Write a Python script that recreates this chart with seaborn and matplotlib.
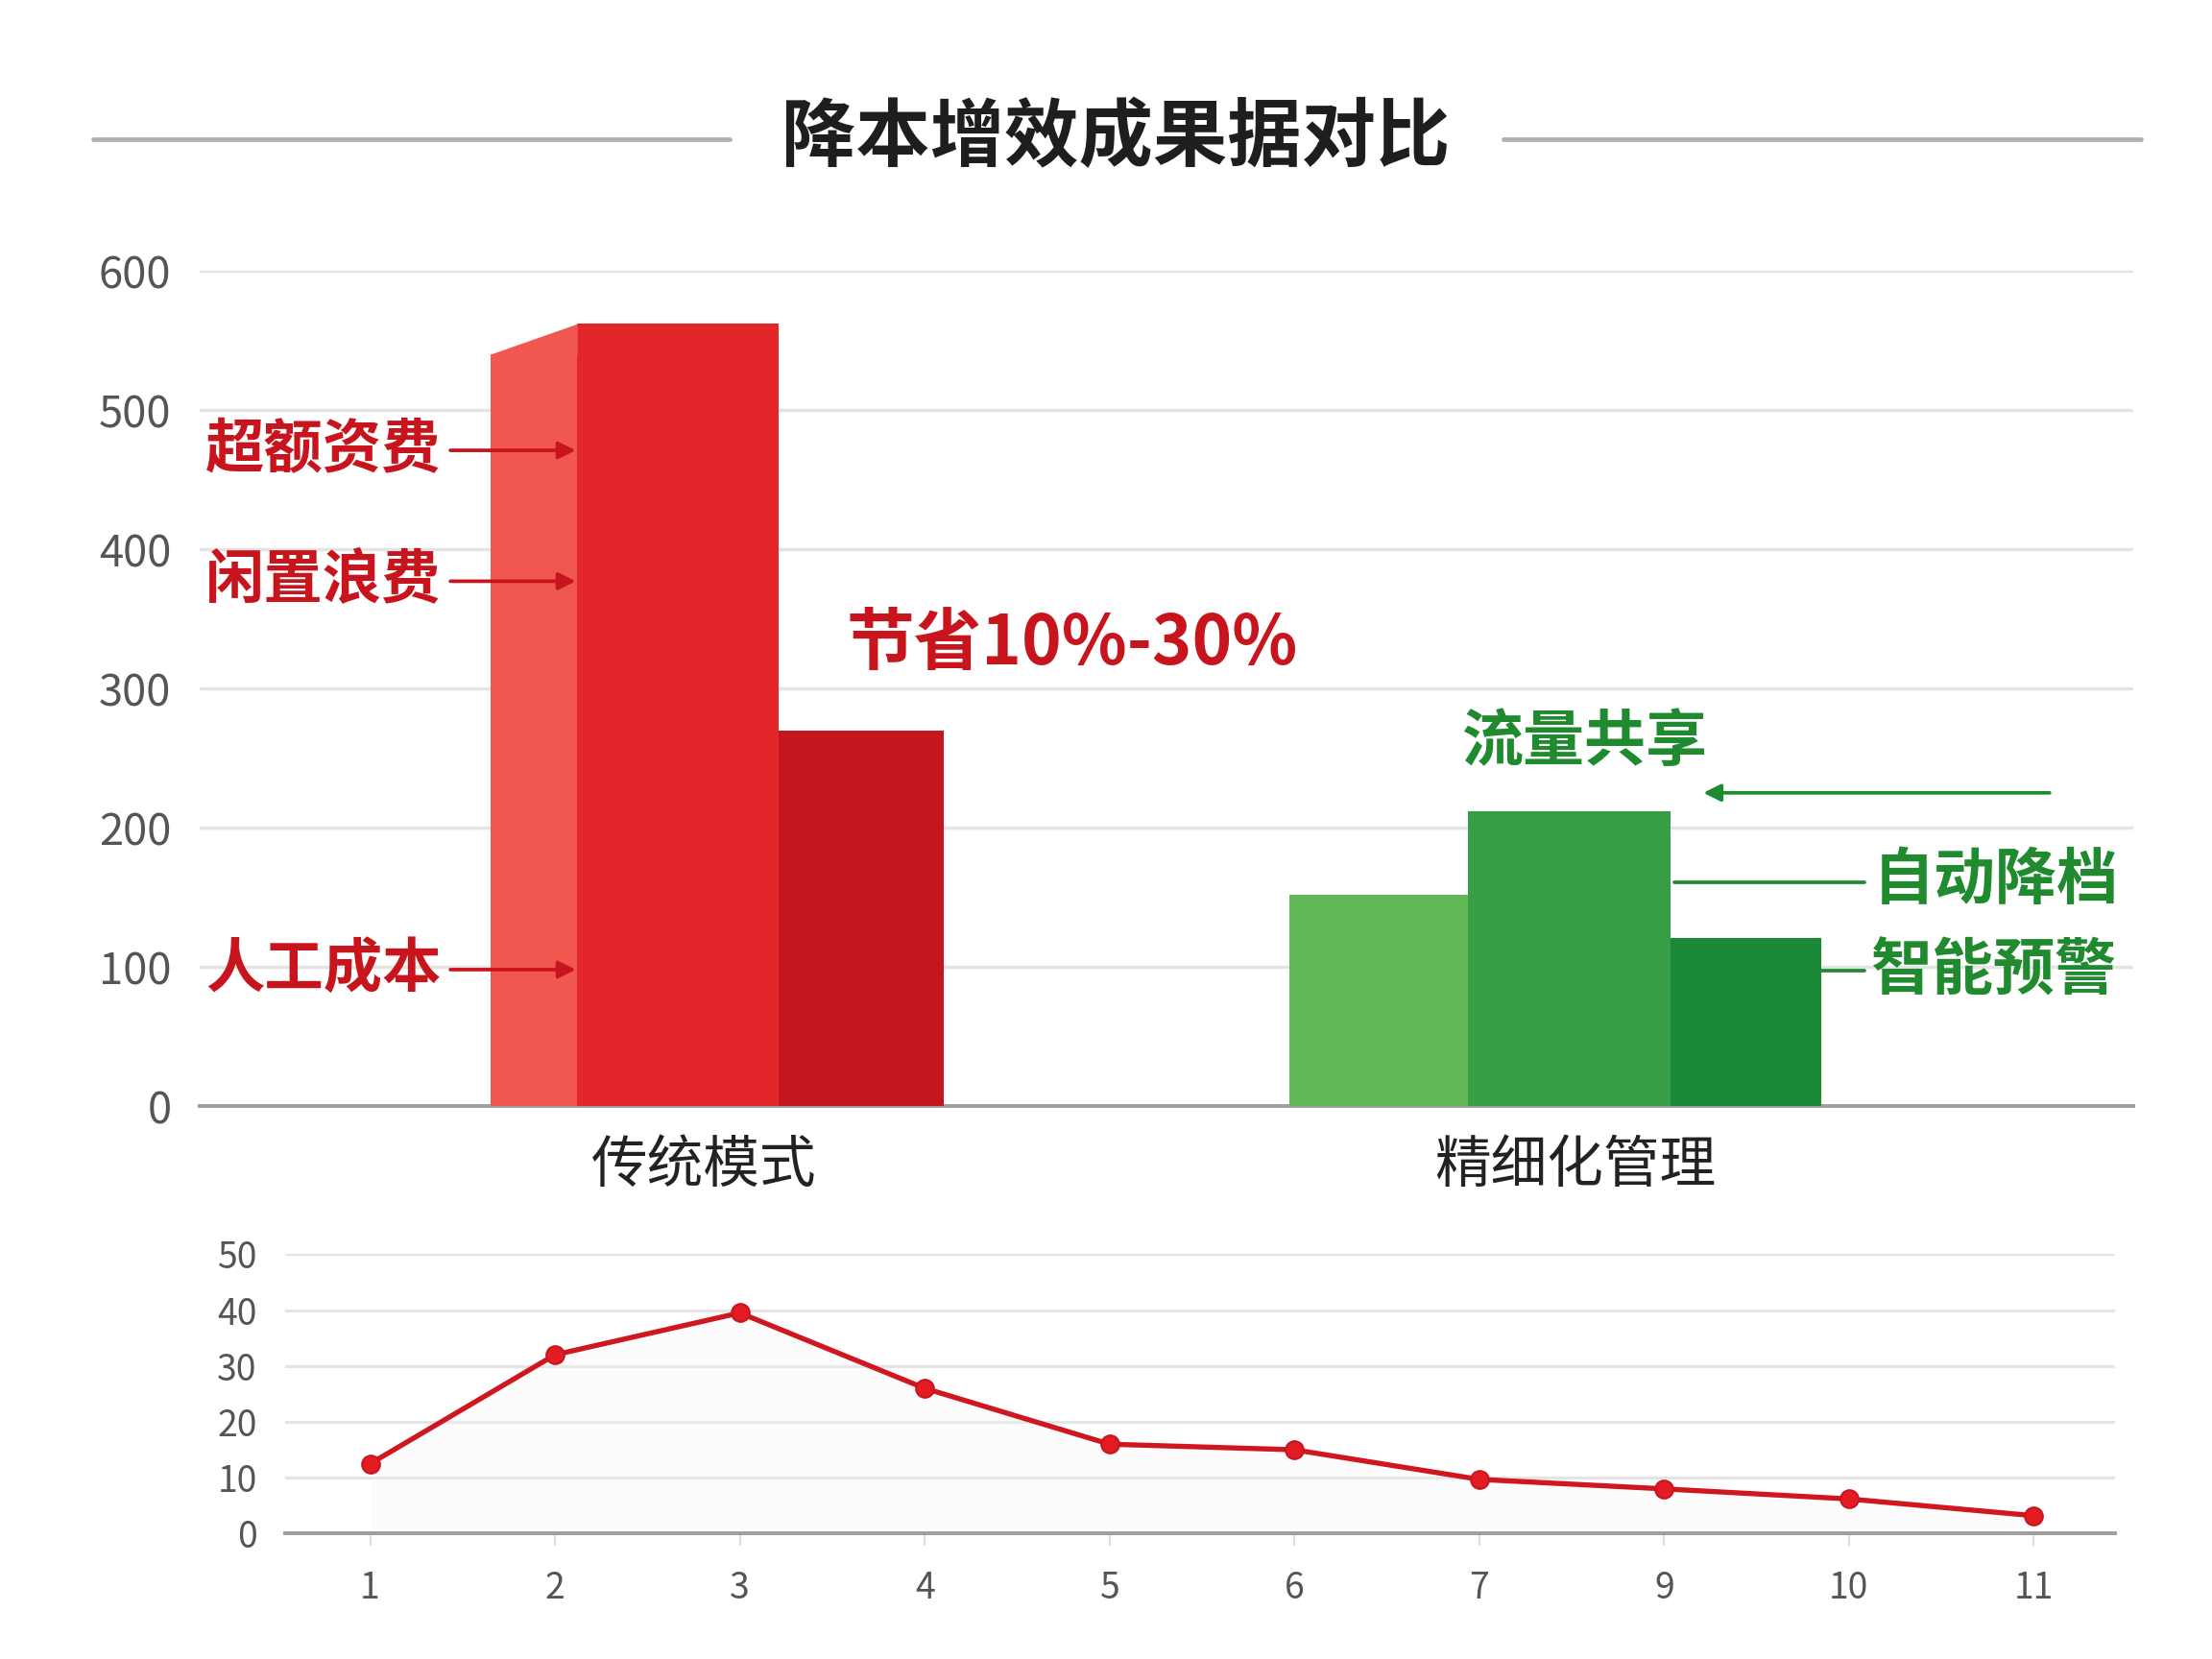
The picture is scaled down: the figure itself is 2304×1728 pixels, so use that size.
import numpy as np
import pandas as pd
import matplotlib
matplotlib.use("Agg")
import matplotlib.pyplot as plt
from matplotlib.lines import Line2D
import seaborn as sns

# ---------------- data ----------------
title = "降本增效成果据对比"
categories = ["传统模式", "精细化管理"]
trad_segments = ["侧面", "总成本", "优化后"]
trad_values = [540, 562, 270]
fine_segments = ["流量共享", "自动降档", "智能预警"]
fine_values = [152, 212, 121]
left_notes = ["超额资费", "闲置浪费", "人工成本"]
left_note_levels = [471, 377, 98]
saving_note = "节省10%-30%"
line_labels = ["1", "2", "3", "4", "5", "6", "7", "9", "10", "11"]
line_values = [12.5, 32, 39.5, 26, 16, 15, 9.7, 8, 6.2, 3.2]
top_ticks = [0, 100, 200, 300, 400, 500, 600]
bottom_ticks = [0, 10, 20, 30, 40, 50]

# ---------------- style ----------------
sns.set_theme(style="white")
plt.rcParams["font.family"] = ["Noto Sans CJK SC", "DejaVu Sans"]

RED_SIDE = "#f0574f"
RED_MAIN = "#e2262a"
RED_DARK = "#c4161e"
GREEN_L = "#62b856"
GREEN_M = "#379e45"
GREEN_D = "#1b8a38"
TXT_RED = "#c8141c"
TXT_GREEN = "#1f8a2e"
GRID = "#e4e4e4"

fig = plt.figure(figsize=(12, 9), dpi=192)
fig.patch.set_facecolor("white")

# title + decorative lines
fig.text(0.5045, 0.9165, title, ha="center", va="center", fontsize=29,
         fontweight="bold", color="#1e1e1e")
for x0, x1 in [(0.0419, 0.3299), (0.6798, 0.9678)]:
    fig.add_artist(Line2D([x0, x1], [0.9158, 0.9158], color="#b0b0b0", lw=1.8,
                          transform=fig.transFigure))

# ---------------- top bar chart ----------------
ax = fig.add_axes([0.0902, 0.3333, 0.8744, 0.5035])
ax.set_xlim(0, 1)
ax.set_ylim(0, 600)

# layout (bar edges in axes-fraction x)
trad_edges = [0.1503, 0.1953, 0.2992, 0.3847]
fine_edges = [0.5637, 0.6559, 0.7605, 0.8386]

trad_colors = [RED_SIDE, RED_MAIN, RED_DARK]
fine_colors = [GREEN_L, GREEN_M, GREEN_D]
for i in range(3):
    ax.bar(trad_edges[i], trad_values[i], width=trad_edges[i + 1] - trad_edges[i],
           align="edge", color=trad_colors[i], edgecolor="none", zorder=3)
    ax.bar(fine_edges[i], fine_values[i], width=fine_edges[i + 1] - fine_edges[i],
           align="edge", color=fine_colors[i], edgecolor="none", zorder=3)
# slanted top of the side face
ax.fill_between([trad_edges[0], trad_edges[1]], [trad_values[0], trad_values[0]],
                [trad_values[0], trad_values[1]], color=RED_SIDE, lw=0, zorder=3)

ax.set_yticks(top_ticks)
ax.set_yticklabels([str(t) for t in top_ticks])
ax.yaxis.grid(True, color=GRID, lw=1.3, zorder=0)
ax.set_axisbelow(True)
ax.set_xticks([0.2609, 0.7111])
ax.set_xticklabels(categories, fontsize=22, color="#222222")
ax.tick_params(axis="x", length=0, pad=12)
ax.tick_params(axis="y", length=0, pad=11, labelsize=17, labelcolor="#555555")
for s in ["top", "right", "left"]:
    ax.spines[s].set_visible(False)
ax.spines["bottom"].set_color("#a0a0a0")
ax.spines["bottom"].set_linewidth(1.5)

# left red notes with arrows
for note, lvl in zip(left_notes, left_note_levels):
    ax.text(0.125, lvl, note, ha="right", va="center", fontsize=23,
            fontweight="bold", color=TXT_RED, zorder=5)
    ax.annotate("", xy=(0.1945, lvl), xytext=(0.1297, lvl),
                arrowprops=dict(arrowstyle="-|>", color=TXT_RED, lw=1.4,
                                mutation_scale=14, shrinkA=0, shrinkB=0), zorder=5)

ax.text(0.451, 332, saving_note, ha="center", va="center", fontsize=26.5,
        fontweight="bold", color=TXT_RED, zorder=5)

# green notes
ax.text(0.716, 261, fine_segments[0], ha="center", va="center", fontsize=24,
        fontweight="bold", color=TXT_GREEN, zorder=5)
ax.annotate("", xy=(0.7775, 225), xytext=(0.9565, 225),
            arrowprops=dict(arrowstyle="-|>", color=TXT_GREEN, lw=1.4,
                            mutation_scale=14, shrinkA=0, shrinkB=0), zorder=5)
ax.plot([0.7627, 0.8607], [161, 161], color=TXT_GREEN, lw=1.4, zorder=5)
ax.text(0.865, 162, fine_segments[1], ha="left", va="center", fontsize=24,
        fontweight="bold", color=TXT_GREEN, zorder=5)
ax.plot([0.8386, 0.8607], [97, 97], color=TXT_GREEN, lw=1.4, zorder=5)
ax.text(0.864, 97, fine_segments[2], ha="left", va="center", fontsize=24,
        fontweight="bold", color=TXT_GREEN, zorder=5)

# ---------------- bottom line chart ----------------
ax2 = fig.add_axes([0.1289, 0.0756, 0.8273, 0.1684])
df = pd.DataFrame({"pos": np.arange(len(line_values)), "value": line_values})
sns.lineplot(data=df, x="pos", y="value", ax=ax2, color="#d0161e", lw=2.0,
             marker="o", markersize=7, markeredgecolor="#c8141c",
             markerfacecolor="#e31b23", zorder=4)
ax2.fill_between(df["pos"], 0, df["value"], color="#f4f4f4", alpha=0.25, lw=0, zorder=1)
ax2.set_xlim(-0.46, 9.44)
ax2.set_ylim(0, 50)
ax2.set_xticks(df["pos"])
ax2.set_xticklabels(line_labels)
ax2.set_yticks(bottom_ticks)
ax2.set_xlabel("")
ax2.set_ylabel("")
ax2.yaxis.grid(True, color=GRID, lw=1.2, zorder=0)
ax2.set_axisbelow(True)
ax2.tick_params(axis="x", length=5, width=0.8, color="#dddddd", pad=9,
                labelsize=14, labelcolor="#555555", bottom=True)
ax2.tick_params(axis="y", length=0, pad=11, labelsize=14, labelcolor="#555555")
for s in ["top", "right", "left"]:
    ax2.spines[s].set_visible(False)
ax2.spines["bottom"].set_color("#a0a0a0")
ax2.spines["bottom"].set_linewidth(1.5)

fig.savefig("out.png", dpi=192, facecolor="white")
